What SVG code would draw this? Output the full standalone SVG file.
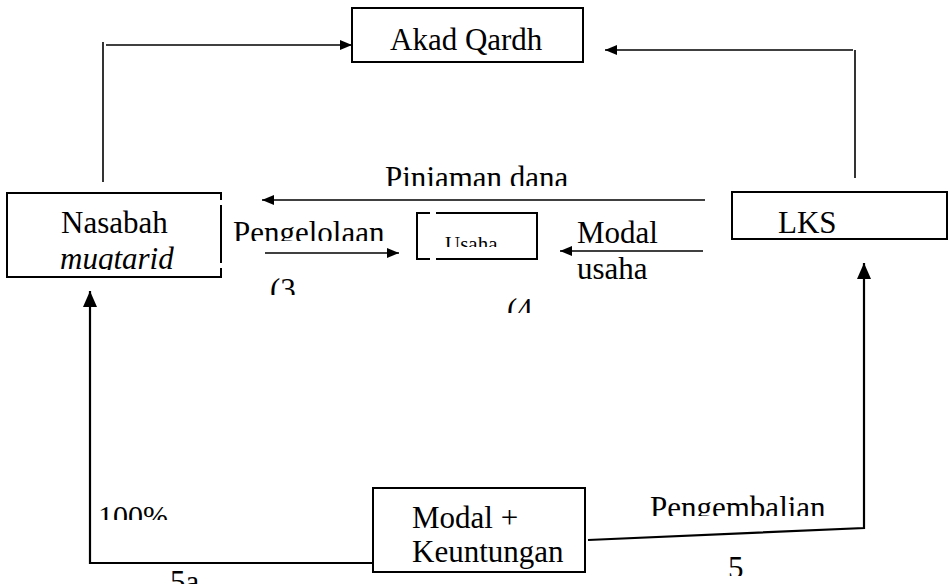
<svg xmlns="http://www.w3.org/2000/svg" width="950" height="584" viewBox="0 0 950 584">
<style>
text{font-family:"Liberation Serif","Times New Roman",serif;font-size:31px;fill:#000}
.box{fill:#fff;stroke:#000;stroke-width:2}
.ln{fill:none;stroke:#000;stroke-width:1.6}
.thick{stroke-width:2.2}
</style>
<defs>
<marker id="ah" markerUnits="userSpaceOnUse" markerWidth="12" markerHeight="10" refX="12" refY="5" orient="auto"><path d="M0,0 L12,5 L0,10 z" fill="#000"/></marker>
<marker id="ahb" markerUnits="userSpaceOnUse" markerWidth="16" markerHeight="14" refX="16" refY="7" orient="auto"><path d="M0,0 L16,7 L0,14 z" fill="#000"/></marker>
<clipPath id="cPin"><rect x="370" y="150" width="220" height="36"/></clipPath>
<clipPath id="cPen"><rect x="225" y="210" width="180" height="31"/></clipPath>
<clipPath id="cUsa"><rect x="420" y="225" width="110" height="22"/></clipPath>
<clipPath id="cMuq"><rect x="50" y="240" width="160" height="30"/></clipPath>
<clipPath id="c3"><rect x="260" y="270" width="60" height="25"/></clipPath>
<clipPath id="c4"><rect x="500" y="290" width="60" height="23"/></clipPath>
<clipPath id="c100"><rect x="90" y="495" width="100" height="25"/></clipPath>
<clipPath id="cPeng"><rect x="640" y="485" width="210" height="31"/></clipPath>
<clipPath id="c5"><rect x="715" y="545" width="40" height="31"/></clipPath>
</defs>

<g id="connectors">
<polyline class="ln" points="103,182 103,42"/>
<line class="ln" x1="106" y1="45" x2="352" y2="45" marker-end="url(#ah)"/>
<polyline class="ln" points="855,178 855,50"/>
<line class="ln" x1="853" y1="50" x2="605" y2="50" marker-end="url(#ah)"/>
<line class="ln" x1="705" y1="200" x2="262" y2="200" marker-end="url(#ah)"/>
<line class="ln" x1="265" y1="253" x2="399" y2="253" marker-end="url(#ah)"/>
<line class="ln" x1="703" y1="251" x2="560" y2="251" marker-end="url(#ah)"/>
<polyline class="ln thick" points="373,563 90,563 90,291" marker-end="url(#ahb)"/>
<polyline class="ln thick" points="588,540 864,528 864,263" marker-end="url(#ahb)"/>
</g>

<g id="akad">
<rect class="box" x="352" y="8" width="231" height="54"/>
<text x="390" y="50">Akad Qardh</text>
</g>

<g id="nasabah">
<path class="box" d="M221,200 L221,193 L7,193 L7,277 L221,277 L221,268"/>
<line class="ln" x1="221" y1="205" x2="221" y2="263" style="stroke-width:2"/>
<text x="61" y="233">Nasabah</text>
<text x="60" y="269" font-style="italic" clip-path="url(#cMuq)">muqtarid</text>
</g>

<g id="usaha">
<path class="box" d="M430,213 L417,213 L417,259 L430,259 M436,259 L537,259 L537,213 L436,213"/>
<text x="445" y="251" style="font-size:21px" clip-path="url(#cUsa)">Usaha</text>
</g>

<g id="lks">
<rect class="box" x="732" y="192" width="215" height="47"/>
<text x="778" y="233">LKS</text>
</g>

<g id="modal">
<rect class="box" x="373" y="488" width="212" height="84"/>
<text x="412" y="528">Modal +</text>
<text x="412" y="562">Keuntungan</text>
</g>

<g id="labels">
<text x="385" y="188" clip-path="url(#cPin)">Pinjaman dana</text>
<text x="233" y="243" clip-path="url(#cPen)">Pengelolaan</text>
<text x="270" y="300" clip-path="url(#c3)">(3</text>
<text x="577" y="243">Modal</text>
<text x="577" y="279">usaha</text>
<text x="507" y="320" clip-path="url(#c4)">(4</text>
<text x="98" y="526" style="font-size:30px" clip-path="url(#c100)">100%</text>
<text x="650" y="518" clip-path="url(#cPeng)">Pengembalian</text>
<text x="170" y="592">5a</text>
<text x="728" y="578" clip-path="url(#c5)">5</text>
</g>
</svg>
